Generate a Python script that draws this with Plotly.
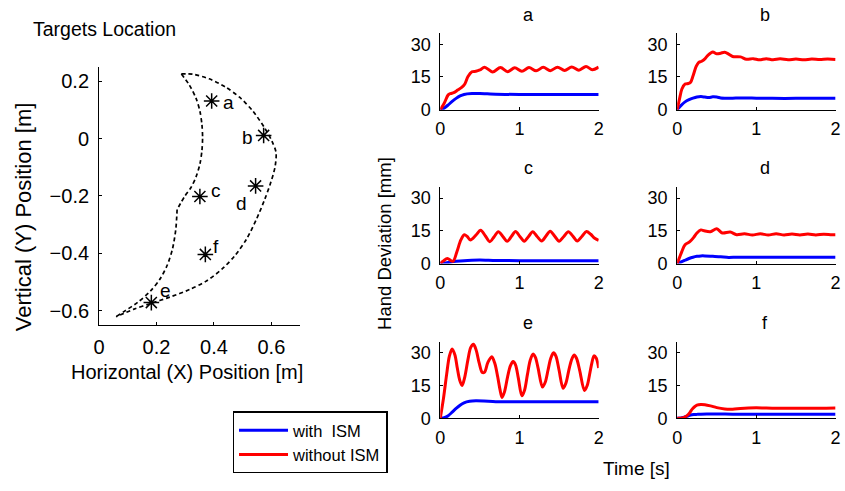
import plotly.graph_objects as go

# ---------------- Data ----------------
# Left panel: workspace boundary (outer arc, inner arc upper part, inner arc lower part)
outer_x = [0.2865, 0.3263, 0.3831, 0.4399, 0.4911, 0.5366, 0.5763, 0.6013, 0.6161, 0.6127,
           0.5968, 0.5763, 0.5479, 0.5138, 0.4740, 0.4286, 0.3717, 0.3149, 0.2467, 0.1786,
           0.1217, 0.0592]
outer_y = [0.2256, 0.2245, 0.2085, 0.1801, 0.1425, 0.0946, 0.0376, -0.0080, -0.0479, -0.0991,
           -0.1561, -0.2131, -0.2815, -0.3499, -0.4068, -0.4547, -0.4980, -0.5265, -0.5527, -0.5755,
           -0.5949, -0.6211]
inner_up_x = [0.2865, 0.3149, 0.3377, 0.3513, 0.3581, 0.3604, 0.3581, 0.3513, 0.3377, 0.3206,
              0.2979, 0.2717]
inner_up_y = [0.2256, 0.1858, 0.1402, 0.0946, 0.0490, 0.0034, -0.0422, -0.0878, -0.1333, -0.1698,
              -0.2017, -0.2473]
inner_low_x = [0.2717, 0.2672, 0.2558, 0.2376, 0.2127, 0.1786, 0.1331, 0.0876, 0.0592]
inner_low_y = [-0.2473, -0.3157, -0.3840, -0.4410, -0.4889, -0.5322, -0.5721, -0.6028, -0.6211]

target_names = ["a", "b", "c", "d", "e", "f"]
target_x = [0.392, 0.573, 0.351, 0.545, 0.182, 0.370]
target_y = [0.131, 0.011, -0.202, -0.165, -0.572, -0.404]

x_ticks_left = [0, 0.2, 0.4, 0.6]
y_ticks_left = [-0.6, -0.4, -0.2, 0, 0.2]
t_ticks = [0, 1, 2]
dev_ticks = [0, 15, 30]

# Hand deviation time series (time [s], deviation [mm])
a_blue_t = [0, 0.03, 0.06, 0.1, 0.15, 0.2, 0.25, 0.3, 0.4, 0.5, 0.7, 1.0, 1.5, 2.0]
a_blue_v = [0, 0.3, 1.0, 2.2, 3.8, 5.2, 6.3, 7.0, 7.4, 7.4, 7.1, 7.0, 7.0, 7.0]
a_red_t = [0, 0.05, 0.1, 0.13, 0.17, 0.22, 0.27, 0.31, 0.35, 0.4, 0.45, 0.5, 0.56, 0.66, 0.76,
           0.85, 0.94, 1.03, 1.12, 1.21, 1.30, 1.39, 1.48, 1.57, 1.66, 1.75, 1.84, 1.92, 2.0]
a_red_v = [0, 3.0, 6.8, 7.4, 7.8, 9.0, 10.2, 11.8, 15.2, 17.4, 17.6, 18.2, 19.5, 17.3, 19.3,
           17.4, 19.2, 17.6, 19.3, 17.8, 19.4, 17.9, 19.5, 18.0, 19.6, 18.1, 19.8, 18.3, 19.5]

b_blue_t = [0, 0.05, 0.1, 0.15, 0.2, 0.25, 0.3, 0.35, 0.4, 0.45, 0.5, 0.55, 0.6, 0.7, 0.8, 1.0,
            1.2, 1.5, 2.0]
b_blue_v = [0, 2.0, 3.6, 4.6, 5.3, 5.8, 6.0, 5.8, 5.6, 5.9, 5.8, 5.4, 5.3, 5.3, 5.4, 5.3,
            5.2, 5.2, 5.2]
b_red_t = [0, 0.03, 0.06, 0.1, 0.14, 0.17, 0.2, 0.24, 0.27, 0.31, 0.35, 0.39, 0.45, 0.5, 0.55,
           0.6, 0.65, 0.7, 0.8, 0.875, 0.96, 1.04, 1.125, 1.21, 1.3, 1.4, 1.5, 1.6, 1.7, 1.8,
           1.9, 2.0]
b_red_v = [0, 5.0, 9.5, 11.8, 12.0, 12.6, 15.4, 19.8, 21.6, 22.2, 23.3, 25.0, 26.4, 25.6, 25.9,
           26.3, 25.5, 24.4, 24.2, 23.1, 23.4, 22.9, 23.4, 22.9, 23.3, 22.9, 23.2, 22.9, 23.2, 23.0,
           23.2, 23.0]

c_blue_t = [0, 0.05, 0.1, 0.15, 0.2, 0.3, 0.4, 0.5, 0.7, 1.0, 1.5, 2.0]
c_blue_v = [0, 0.2, 0.5, 0.8, 1.0, 1.3, 1.5, 1.6, 1.4, 1.3, 1.3, 1.3]
c_red_t = [0, 0.04, 0.09, 0.16, 0.21, 0.26, 0.304, 0.34, 0.38, 0.45, 0.51, 0.57, 0.625, 0.68,
           0.733, 0.79, 0.845, 0.9, 0.95, 1.005, 1.06, 1.115, 1.167, 1.22, 1.28, 1.335, 1.388,
           1.445, 1.50, 1.56, 1.617, 1.675, 1.73, 1.79, 1.846, 1.90, 1.95, 2.0]
c_red_v = [0, 1.2, 2.3, 1.0, 5.4, 10.8, 13.2, 12.4, 10.8, 13.0, 15.2, 12.6, 10.0, 12.3,
           14.6, 12.4, 10.2, 12.5, 14.7, 12.4, 10.2, 12.4, 14.6, 12.5, 10.3, 12.6, 14.8,
           12.5, 10.2, 12.4, 14.6, 12.5, 10.3, 12.5, 14.7, 13.4, 11.6, 10.6]

d_blue_t = [0, 0.05, 0.1, 0.15, 0.2, 0.25, 0.3, 0.35, 0.45, 0.55, 0.65, 0.75, 1.0, 1.5, 2.0]
d_blue_v = [0, 0.7, 1.5, 2.3, 2.9, 3.3, 3.5, 3.5, 3.3, 3.1, 2.8, 2.9, 2.9, 2.9, 2.9]
d_red_t = [0, 0.03, 0.06, 0.1, 0.16, 0.21, 0.25, 0.3, 0.34, 0.42, 0.5, 0.57, 0.67, 0.75, 0.85,
           0.95, 1.05, 1.15, 1.25, 1.35, 1.45, 1.55, 1.65, 1.75, 1.85, 1.95, 2.0]
d_red_v = [0, 2.8, 5.6, 8.6, 10.0, 12.0, 14.0, 15.4, 15.0, 14.6, 15.9, 14.0, 14.4, 13.2, 13.6,
           13.1, 13.6, 13.1, 13.6, 13.1, 13.5, 13.1, 13.5, 13.1, 13.4, 13.2, 13.2]

e_blue_t = [0, 0.05, 0.1, 0.15, 0.2, 0.25, 0.3, 0.37, 0.45, 0.55, 0.7, 1.0, 1.5, 2.0]
e_blue_v = [0, 0.3, 1.2, 2.8, 4.5, 6.0, 7.1, 7.8, 8.0, 7.9, 7.6, 7.6, 7.6, 7.6]
e_red_t = [0, 0.04, 0.08, 0.115, 0.15, 0.185, 0.215, 0.245, 0.275, 0.31, 0.35, 0.385, 0.42,
           0.455, 0.49, 0.53, 0.56, 0.6, 0.65, 0.69, 0.725, 0.755, 0.78, 0.81, 0.85, 0.885,
           0.92, 0.95, 0.985, 1.03, 1.065, 1.10, 1.135, 1.17, 1.2, 1.235, 1.29, 1.325, 1.36,
           1.395, 1.43, 1.46, 1.5, 1.55, 1.585, 1.62, 1.655, 1.69, 1.72, 1.76, 1.82, 1.855,
           1.89, 1.915, 1.94, 1.97, 2.0]
e_red_v = [0, 9.0, 20.0, 28.5, 31.8, 29.0, 23.0, 17.5, 15.0, 19.0, 27.0, 32.5, 33.9, 31.0,
           25.5, 21.0, 21.2, 25.5, 28.2, 25.0, 19.0, 13.0, 9.5, 12.0, 19.0, 24.0, 26.0, 24.5,
           18.5, 10.3, 13.0, 20.0, 26.5, 29.4, 28.0, 23.0, 14.3, 16.5, 22.0, 27.5, 30.0, 28.5,
           22.0, 13.8, 16.0, 21.5, 26.5, 29.0, 27.5, 22.0, 12.7, 15.0, 21.0, 25.5, 28.6, 27.5, 23.0]

f_blue_t = [0, 0.05, 0.08, 0.12, 0.17, 0.21, 0.25, 0.3, 0.375, 0.5, 0.7, 1.0, 1.5, 2.0]
f_blue_v = [0, 0.1, 0.4, 0.9, 1.5, 1.7, 1.8, 1.9, 1.95, 1.95, 1.9, 1.9, 1.9, 1.9]
f_red_t = [0, 0.04, 0.08, 0.125, 0.16, 0.19, 0.22, 0.25, 0.3, 0.35, 0.42, 0.5, 0.6, 0.7, 0.8,
           0.9, 1.0, 1.1, 1.2, 1.4, 1.6, 1.8, 2.0]
f_red_v = [0, 0, 0.3, 1.2, 2.6, 4.2, 5.3, 6.0, 6.3, 6.2, 5.7, 4.9, 4.3, 4.2, 4.5, 4.7, 4.8,
           4.7, 4.6, 4.6, 4.6, 4.6, 4.7]

series = {
    "a": (a_blue_t, a_blue_v, a_red_t, a_red_v),
    "b": (b_blue_t, b_blue_v, b_red_t, b_red_v),
    "c": (c_blue_t, c_blue_v, c_red_t, c_red_v),
    "d": (d_blue_t, d_blue_v, d_red_t, d_red_v),
    "e": (e_blue_t, e_blue_v, e_red_t, e_red_v),
    "f": (f_blue_t, f_blue_v, f_red_t, f_red_v),
}
legend_names = ["with\u00a0 ISM", "without ISM"]

# ---------------- Layout helpers ----------------
W, H = 845, 491
FONT = "Liberation Sans, Arial, Helvetica, sans-serif"
BLUE, RED = "#0000ff", "#ff0000"

def px_x(p):
    return p / W

def px_y(p):
    return 1 - p / H

fig = go.Figure()

# Left panel
bx = outer_x + [None] + inner_up_x + [None] + inner_low_x
by = outer_y + [None] + inner_up_y + [None] + inner_low_y
fig.add_trace(go.Scatter(x=bx, y=by, mode="lines",
                         line=dict(color="black", width=1.7, dash="4px,3px", shape="spline", smoothing=0.8),
                         showlegend=False, hoverinfo="skip", xaxis="x", yaxis="y"))
fig.add_trace(go.Scatter(x=target_x, y=target_y, mode="markers",
                         marker=dict(symbol="asterisk-open", size=13, color="black",
                                     line=dict(color="black", width=1.5)),
                         showlegend=False, xaxis="x", yaxis="y"))

label_offsets = {"a": (0.058, -0.004), "b": (-0.056, -0.008), "c": (0.055, 0.022),
                 "d": (-0.048, -0.06), "e": (0.048, 0.042), "f": (0.036, 0.026)}
annotations = []
for n, x, y in zip(target_names, target_x, target_y):
    dx, dy = label_offsets[n]
    annotations.append(dict(x=x + dx, y=y + dy, xref="x", yref="y", text=n, showarrow=False,
                            font=dict(family=FONT, size=19, color="black"), xanchor="center", yanchor="middle"))

axis_common = dict(showline=True, linecolor="black", linewidth=1, ticks="inside", ticklen=3,
                   tickcolor="black", showgrid=False, zeroline=False, mirror=False,
                   tickfont=dict(family=FONT, color="black"))

layout = dict(
    width=W, height=H, margin=dict(l=0, r=0, t=0, b=0),
    paper_bgcolor="white", plot_bgcolor="white",
    font=dict(family=FONT, color="black"),
    xaxis=dict(axis_common, domain=[px_x(94.3), px_x(298)], range=[0, 0.7], tickvals=x_ticks_left,
               anchor="y", tickfont=dict(family=FONT, size=20, color="black"), ticklabelstandoff=4),
    yaxis=dict(axis_common, domain=[px_y(331.7), px_y(68.3)], range=[-0.65, 0.25], tickvals=y_ticks_left,
               anchor="x", tickfont=dict(family=FONT, size=20, color="black"), ticklabelstandoff=5),
)

col_x = [(440, 600.5), (680, 840.5)]
row_y = [(34, 112), (191, 269), (349, 427)]
title_cx = [529, 769]

for i, name in enumerate(target_names):
    r, c = divmod(i, 2)
    k = i + 2
    xa, ya = f"xaxis{k}", f"yaxis{k}"
    x0, x1 = col_x[c]
    y0, y1 = row_y[r]
    layout[xa] = dict(axis_common, domain=[px_x(x0), px_x(x1)], range=[0, 2], tickvals=t_ticks,
                      anchor=f"y{k}", tickfont=dict(family=FONT, size=18, color="black"), ticklabelstandoff=3)
    layout[ya] = dict(axis_common, domain=[px_y(y1), px_y(y0)], range=[0, 35], tickvals=dev_ticks,
                      anchor=f"x{k}", tickfont=dict(family=FONT, size=18, color="black"), ticklabelstandoff=5)
    bt, bv, rt, rv = series[name]
    fig.add_trace(go.Scatter(x=bt, y=bv, mode="lines",
                             line=dict(color=BLUE, width=3, shape="spline", smoothing=0.7),
                             name=legend_names[0], showlegend=(i == 0), legendrank=1,
                             xaxis=f"x{k}", yaxis=f"y{k}"))
    fig.add_trace(go.Scatter(x=rt, y=rv, mode="lines",
                             line=dict(color=RED, width=3, shape="spline", smoothing=0.9),
                             name=legend_names[1], showlegend=(i == 0), legendrank=2,
                             xaxis=f"x{k}", yaxis=f"y{k}"))
    annotations.append(dict(x=px_x(title_cx[c]), y=px_y(y0 - 19), xref="paper", yref="paper", text=name,
                            showarrow=False, font=dict(family=FONT, size=18), xanchor="center", yanchor="middle"))

# Text labels
annotations += [
    dict(x=px_x(25), y=px_y(30), xref="paper", yref="paper", text="Targets Location", showarrow=False,
         font=dict(family=FONT, size=19.5), xanchor="left", yanchor="middle"),
    dict(x=px_x(183), y=px_y(380), xref="paper", yref="paper", text="Horizontal (X) Position [m]", showarrow=False,
         font=dict(family=FONT, size=20), xanchor="center", yanchor="middle"),
    dict(x=px_x(18), y=px_y(221), xref="paper", yref="paper", text="Vertical (Y) Position [m]", showarrow=False,
         font=dict(family=FONT, size=22), xanchor="center", yanchor="middle", textangle=-90),
    dict(x=px_x(384), y=px_y(249), xref="paper", yref="paper", text="Hand Deviation [mm]", showarrow=False,
         font=dict(family=FONT, size=18.5), xanchor="center", yanchor="middle", textangle=-90),
    dict(x=px_x(639), y=px_y(478), xref="paper", yref="paper", text="Time [s]", showarrow=False,
         font=dict(family=FONT, size=19), xanchor="center", yanchor="middle"),
]

layout["annotations"] = annotations
layout["showlegend"] = True
layout["legend"] = dict(x=px_x(229.5), y=px_y(420), xanchor="left", yanchor="top",
                        bgcolor="white", bordercolor="black", borderwidth=1.5,
                        font=dict(family=FONT, size=16.5, color="black"), itemwidth=49,
                        tracegroupgap=0, traceorder="normal")

fig.update_layout(layout)
fig.write_html("out.html")
